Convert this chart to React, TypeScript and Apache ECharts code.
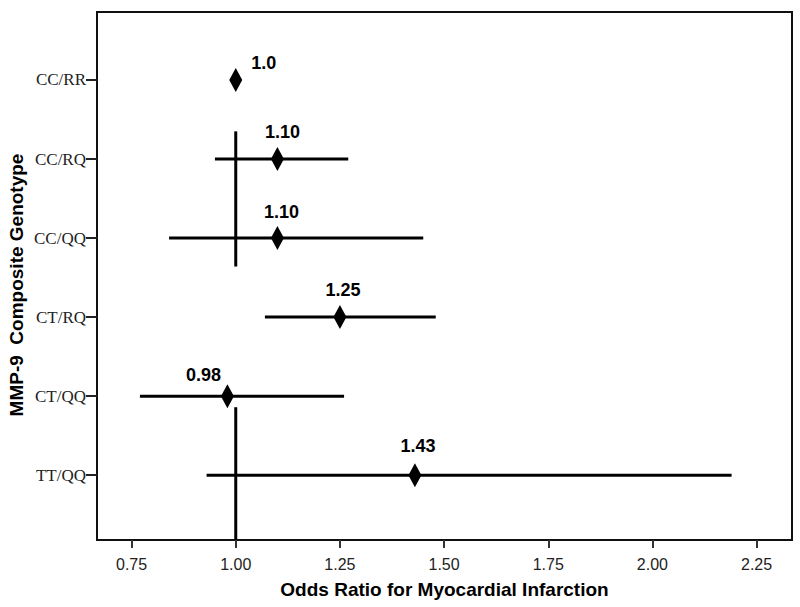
import React, { useEffect, useRef } from "react";
import * as echarts from "echarts";

// ---- Data ----
const genotypes = ["CC/RR", "CC/RQ", "CC/QQ", "CT/RQ", "CT/QQ", "TT/QQ"];
const oddsRatios = [1.0, 1.1, 1.1, 1.25, 0.98, 1.43];
const ciLower: (number | null)[] = [null, 0.95, 0.84, 1.07, 0.77, 0.93];
const ciUpper: (number | null)[] = [null, 1.27, 1.45, 1.48, 1.26, 2.19];
const orLabels = ["1.0", "1.10", "1.10", "1.25", "0.98", "1.43"];
const xTickValues = [0.75, 1.0, 1.25, 1.5, 1.75, 2.0, 2.25];
// reference line at OR = 1, drawn in two pieces (row-position ranges)
const refLineX = 1.0;
const refLineSegments = [
  [1.65, 3.36],
  [5.14, 6.82],
];

// ---- Styling (label offsets from the diamond centre, px) ----
const labelOffsets = [
  [28, -17],
  [5, -27],
  [4, -26],
  [3, -27],
  [-24, -21],
  [3, -29],
];

const SANS = '"Liberation Sans", Arial, sans-serif';
const SERIF = '"Liberation Serif", "Times New Roman", serif';

export default function App() {
  const ref = useRef<HTMLDivElement>(null);

  useEffect(() => {
    if (!ref.current) return;
    const chart = echarts.init(ref.current, null, { renderer: "svg" });

    const rowPos = genotypes.map((_, i) => i + 1);

    const ciData = genotypes
      .map((_, i) =>
        ciLower[i] == null ? null : [ciLower[i], ciUpper[i], rowPos[i]]
      )
      .filter((d) => d !== null);

    const refData = refLineSegments.map((s) => [refLineX, s[0], s[1]]);

    const pointData = genotypes.map((_, i) => ({
      value: [oddsRatios[i], rowPos[i]],
      label: {
        show: true,
        position: "inside",
        offset: labelOffsets[i],
        formatter: orLabels[i],
      },
    }));

    chart.setOption({
      animation: false,
      backgroundColor: "#fff",
      grid: {
        left: 97,
        top: 12,
        right: 8,
        bottom: 67,
        show: true,
        borderColor: "#111",
        borderWidth: 2,
        backgroundColor: "transparent",
      },
      xAxis: {
        type: "value",
        min: 0.667,
        max: 2.335,
        axisLine: { show: false },
        splitLine: { show: false },
        axisTick: {
          show: true,
          customValues: xTickValues,
          length: 8,
          lineStyle: { color: "#333", width: 2 },
        },
        axisLabel: {
          customValues: xTickValues,
          formatter: (v: number) => v.toFixed(2),
          fontFamily: SANS,
          fontSize: 16,
          color: "#222",
          margin: 16,
        },
        name: "Odds Ratio for Myocardial Infarction",
        nameLocation: "middle",
        nameGap: 40,
        nameTextStyle: {
          fontFamily: SANS,
          fontWeight: "bold",
          fontSize: 19,
          color: "#000",
        },
      },
      yAxis: {
        type: "value",
        inverse: true,
        min: 0.14,
        max: 6.82,
        axisLine: { show: false },
        splitLine: { show: false },
        axisTick: {
          show: true,
          customValues: rowPos,
          length: 11,
          lineStyle: { color: "#222", width: 2 },
        },
        axisLabel: {
          customValues: rowPos,
          formatter: (v: number) => genotypes[Math.round(v) - 1] ?? "",
          fontFamily: SERIF,
          fontSize: 17,
          color: "#222",
          margin: 11,
        },
      },
      graphic: [
        {
          type: "text",
          x: 16,
          y: 285,
          rotation: Math.PI / 2,
          style: {
            text: "MMP-9  Composite Genotype",
            font: `bold 19px ${SANS}`,
            fill: "#000",
            align: "center",
            verticalAlign: "middle",
          },
        },
      ],
      series: [
        {
          type: "custom",
          name: "CI",
          data: ciData,
          encode: { x: [0, 1], y: 2 },
          renderItem: (params: any, api: any) => {
            const p1 = api.coord([api.value(0), api.value(2)]);
            const p2 = api.coord([api.value(1), api.value(2)]);
            return {
              type: "line",
              shape: { x1: p1[0], y1: p1[1], x2: p2[0], y2: p2[1] },
              style: { stroke: "#000", lineWidth: 3 },
            };
          },
          z: 2,
        },
        {
          type: "custom",
          name: "Reference",
          data: refData,
          encode: { x: 0, y: [1, 2] },
          renderItem: (params: any, api: any) => {
            const p1 = api.coord([api.value(0), api.value(1)]);
            const p2 = api.coord([api.value(0), api.value(2)]);
            return {
              type: "line",
              shape: { x1: p1[0], y1: p1[1], x2: p2[0], y2: p2[1] },
              style: { stroke: "#000", lineWidth: 3 },
            };
          },
          z: 2,
        },
        {
          type: "scatter",
          name: "Odds ratio",
          symbol: "diamond",
          symbolSize: [13, 24],
          itemStyle: { color: "#000", opacity: 1 },
          data: pointData,
          label: {
            fontFamily: SANS,
            fontWeight: "bold",
            fontSize: 18,
            color: "#000",
          },
          z: 5,
        },
      ],
    });

    return () => chart.dispose();
  }, []);

  return (
    <div
      ref={ref}
      style={{ position: "fixed", left: 0, top: 0, width: 800, height: 607, background: "#fff" }}
    />
  );
}
